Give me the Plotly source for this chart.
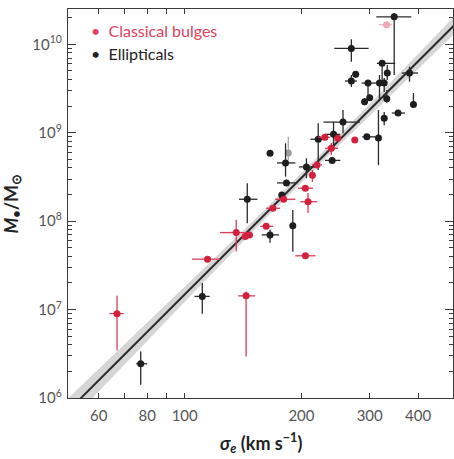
import numpy as np
import plotly.graph_objects as go

# ---- Ellipticals: sigma_e (km/s) with error range, M_BH (Msun) with error range ----
ell_sigma    = [347, 269, 323, 276, 333, 269, 297, 318, 327, 380, 291, 300, 332, 389, 355, 327,
                256, 295, 316, 242, 221, 240, 206, 166, 182, 183, 178, 145, 190, 166, 111, 77]
ell_sigma_lo = [312, 243, 313, 271, 330, 259, 286, 315, 324, 363, 287, 296, 328, 389, 342, 324,
                228, 287, 313, 230, 211, 230, 197, 166, 173, 173, 175, 138, 187, 158, 106, 75]
ell_sigma_hi = [384, 298, 349, 281, 336, 278, 319, 321, 330, 400, 296, 304, 335, 389, 370, 330,
                283, 310, 319, 252, 233, 252, 219, 166, 193, 195, 181, 154, 193, 175, 116, 80]
ell_mass     = [2.05e10, 9.0e9, 6.1e9, 4.6e9, 4.74e9, 3.85e9, 3.65e9, 3.65e9, 3.65e9, 4.74e9,
                2.24e9, 2.49e9, 2.43e9, 2.09e9, 1.67e9, 1.46e9, 1.32e9, 9.0e8, 8.7e8, 9.6e8,
                8.45e8, 4.87e8, 4.11e8, 5.86e8, 4.56e8, 2.71e8, 1.98e8, 1.77e8, 8.85e7, 7.0e7,
                1.41e7, 2.44e6]
ell_mass_lo  = [4.5e9, 6.35e9, 3.5e9, 4.2e9, 3.95e9, 3.3e9, 2.54e9, 2.35e9, 2.89e9, 3.78e9,
                2.05e9, 2.3e9, 2.17e9, 2.09e9, 1.55e9, 1.22e9, 9.9e8, 8.4e8, 4.3e8, 6.4e8,
                3.8e8, 4.6e8, 3.06e8, 5.86e8, 3.19e8, 2.5e8, 1.85e8, 9.5e7, 4.5e7, 5.7e7,
                9.0e6, 1.41e6]
ell_mass_hi  = [2.26e10, 1.14e10, 6.6e9, 5.0e9, 5.84e9, 4.5e9, 3.95e9, 4.5e9, 4.16e9, 5.58e9,
                2.45e9, 2.7e9, 3.05e9, 2.82e9, 1.8e9, 1.72e9, 1.81e9, 9.7e8, 1.81e9, 1.33e9,
                1.28e9, 5.2e8, 5.15e8, 5.86e8, 7.6e8, 2.95e8, 2.1e8, 2.68e8, 1.34e8, 8.0e7,
                2.0e7, 3.36e6]

# ---- Classical bulges ----
blg_sigma    = [66.9, 114.5, 144, 135.8, 143.2, 146.9, 162.2, 168.8, 180, 208, 204.7, 213.5,
                219.3, 204.8, 229.8, 248.2, 238.9, 274.6]
blg_sigma_lo = [64, 104.4, 137.4, 123.4, 140, 144, 156.5, 162.2, 171, 198.6, 196, 211,
                213, 193, 221, 244, 230.2, 274.6]
blg_sigma_hi = [69.6, 123.4, 152, 144.6, 146.5, 150, 169, 176.2, 193, 219.5, 214.4, 216,
                226, 217.4, 237, 252, 248.6, 274.6]
blg_mass     = [9.0e6, 3.72e7, 1.43e7, 7.43e7, 6.7e7, 7.0e7, 8.74e7, 1.4e8, 1.77e8, 1.66e8,
                2.36e8, 3.3e8, 4.33e8, 4.06e7, 8.9e8, 8.67e8, 6.68e8, 8.3e8]
blg_mass_lo  = [3.45e6, 3.6e7, 2.95e6, 4.54e7, 6.2e7, 6.5e7, 8.2e7, 1.3e8, 1.65e8, 1.24e8,
                2.2e8, 2.78e8, 4.0e8, 3.8e7, 8.3e8, 8.2e8, 5.61e8, 8.3e8]
blg_mass_hi  = [1.43e7, 3.85e7, 1.6e7, 1.04e8, 7.2e7, 7.5e7, 9.3e7, 1.5e8, 1.9e8, 2.09e8,
                2.5e8, 3.8e8, 4.7e8, 4.3e7, 9.5e8, 9.2e8, 7.67e8, 8.3e8]

# ---- Objects omitted from the fit (drawn faded) ----
omit_ell_sigma, omit_ell_sigma_lo, omit_ell_sigma_hi = [185], [185], [185]
omit_ell_mass, omit_ell_mass_lo, omit_ell_mass_hi = [5.9e8], [4.9e8], [9.0e8]
omit_blg_sigma, omit_blg_sigma_lo, omit_blg_sigma_hi = [331.6], [317], [343]
omit_blg_mass, omit_blg_mass_lo, omit_blg_mass_hi = [1.67e10], [1.6e10], [1.75e10]

# ---- M-sigma fit: log(M) = FIT_ZP + FIT_SLOPE * log(sigma / 200) ----
FIT_ZP, FIT_ZP_ERR = 8.49, 0.05
FIT_SLOPE, FIT_SLOPE_ERR = 4.38, 0.22

x_ticks = [60, 70, 80, 90, 100, 200, 300, 400]
x_tick_text = ["60", "", "80", "", "100", "200", "300", "400"]
y_ticks = [1e6, 1e7, 1e8, 1e9, 1e10]
y_tick_text = ["10<sup>6</sup>", "10<sup>7</sup>", "10<sup>8</sup>", "10<sup>9</sup>", "10<sup>10</sup>"]

RED = "#d2203d"
BLACK = "#1e1e1e"
FONT = "Lato"


def errs(v, lo, hi):
    v, lo, hi = map(np.asarray, (v, lo, hi))
    return hi - v, v - lo


def points(name, sx, sxl, sxh, my, myl, myh, color, bar_color):
    ex_p, ex_m = errs(sx, sxl, sxh)
    ey_p, ey_m = errs(my, myl, myh)
    return go.Scatter(
        x=sx, y=my, mode="markers", name=name, showlegend=False,
        marker=dict(color=color, size=7, line=dict(width=0)),
        error_x=dict(type="data", symmetric=False, array=ex_p, arrayminus=ex_m,
                     color=bar_color, thickness=1.3, width=0),
        error_y=dict(type="data", symmetric=False, array=ey_p, arrayminus=ey_m,
                     color=bar_color, thickness=1.3, width=0),
    )


fig = go.Figure()

# fit line with its 1-sigma band
s = np.logspace(np.log10(45), np.log10(520), 200)
ls = np.log10(s / 200.0)
lm = FIT_ZP + FIT_SLOPE * ls
dl = np.sqrt(FIT_ZP_ERR ** 2 + (FIT_SLOPE_ERR * ls) ** 2)
fig.add_trace(go.Scatter(
    x=np.concatenate([s, s[::-1]]), y=10 ** np.concatenate([lm + dl, (lm - dl)[::-1]]),
    fill="toself", fillcolor="#d6d6d6", line=dict(width=0), mode="lines",
    hoverinfo="skip", showlegend=False))
fig.add_trace(go.Scatter(x=s, y=10 ** lm, mode="lines", line=dict(color="#2b2b2b", width=2),
                         showlegend=False, name="fit"))

fig.add_trace(points("Ellipticals (omitted)", omit_ell_sigma, omit_ell_sigma_lo, omit_ell_sigma_hi,
                     omit_ell_mass, omit_ell_mass_lo, omit_ell_mass_hi, "#9a9a9a", "#a8a8a8"))
fig.add_trace(points("Classical bulges (omitted)", omit_blg_sigma, omit_blg_sigma_lo, omit_blg_sigma_hi,
                     omit_blg_mass, omit_blg_mass_lo, omit_blg_mass_hi, "#f2a7b4", "#f4b7c2"))
fig.add_trace(points("Ellipticals", ell_sigma, ell_sigma_lo, ell_sigma_hi,
                     ell_mass, ell_mass_lo, ell_mass_hi, BLACK, "#2a2a2a"))
fig.add_trace(points("Classical bulges", blg_sigma, blg_sigma_lo, blg_sigma_hi,
                     blg_mass, blg_mass_lo, blg_mass_hi, RED, "#dd3a55"))

axis_common = dict(showline=True, linecolor="#3a3a3a", linewidth=1.3, mirror="ticks",
                   ticks="inside", tickcolor="#3a3a3a", showgrid=False, zeroline=False,
                   tickfont=dict(family=FONT, size=15, color="#555555"))

fig.update_xaxes(type="log", range=[np.log10(50), np.log10(492)],
                 tickvals=x_ticks, ticktext=x_tick_text, ticklen=5,
                 ticklabelstandoff=4, **axis_common)
fig.update_yaxes(type="log", range=[6, 10.4], tickvals=y_ticks, ticktext=y_tick_text,
                 ticklen=8, ticklabelstandoff=2,
                 minor=dict(ticks="inside", ticklen=4, tickcolor="#3a3a3a",
                            tickvals=[k * 10.0 ** e for e in range(6, 11) for k in range(2, 10)]),
                 **axis_common)

annotations = [
    dict(text="<b><i>σ</i><sub><i>e</i></sub> (km s<sup>−1</sup>)</b>", x=0.5, y=0,
         xref="paper", yref="paper", yshift=-45, xanchor="center", yanchor="middle",
         showarrow=False, font=dict(family=FONT, size=18, color="#222222")),
    dict(text="<b><i>M</i><sub>•</sub>/M<sub>⊙</sub></b>", x=0, y=0.5, textangle=-90,
         xref="paper", yref="paper", xshift=-56, xanchor="center", yanchor="middle",
         showarrow=False, font=dict(family=FONT, size=18, color="#222222")),
    dict(text="•  Classical bulges", x=0, y=1, xref="paper", yref="paper", xshift=21, yshift=-21,
         xanchor="left", yanchor="middle", showarrow=False,
         font=dict(family=FONT, size=16, color="#e0405c")),
    dict(text="•  Ellipticals", x=0, y=1, xref="paper", yref="paper", xshift=21, yshift=-44,
         xanchor="left", yanchor="middle", showarrow=False,
         font=dict(family=FONT, size=16, color="#222222")),
]

fig.update_layout(width=454, height=459, margin=dict(l=68, r=1, t=9, b=61),
                  paper_bgcolor="white", plot_bgcolor="white", showlegend=False,
                  annotations=annotations, font=dict(family=FONT))

fig.write_html("out.html")
